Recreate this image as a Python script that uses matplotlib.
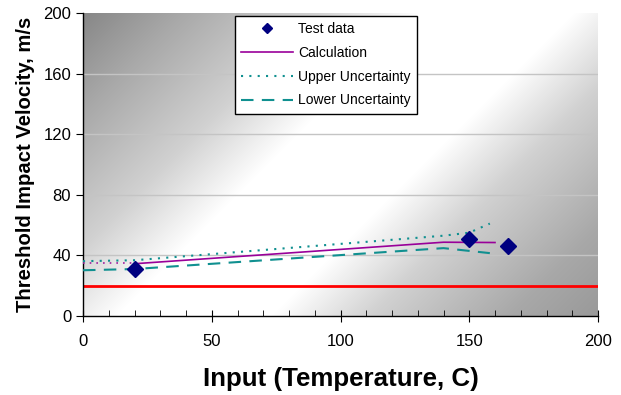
import numpy as np
import matplotlib
matplotlib.use("Agg")
import matplotlib.pyplot as plt
from matplotlib.ticker import MultipleLocator

plt.rcParams['font.family'] = ['Liberation Sans', 'DejaVu Sans']

# Data
test_x = [20, 150, 165]
test_y = [31.3, 51.1, 45.9]

calc_x = [20, 140, 160]
calc_y = [34.5, 48.7, 48.5]

calc_ext_x = [0, 20]
calc_ext_y = [34.8, 34.8]

upper_x = [0, 20, 140, 150, 158]
upper_y = [36.2, 36.8, 53.0, 55.0, 61.0]

lower_x = [0, 20, 140, 158]
lower_y = [30.2, 31.0, 44.8, 41.5]

threshold_y = 20

x_ticks = [0, 50, 100, 150, 200]
y_ticks = [0, 40, 80, 120, 160, 200]

W, H = 621, 395
fig = plt.figure(figsize=(W / 100, H / 100), dpi=100)
ax = fig.add_axes([83 / W, 1 - 316 / H, 515 / W, 303 / H])

# gradient background: diagonal in pixel space, dark top-left and bottom-right
pw, ph = 515, 303
xs = np.arange(pw)
ys = np.arange(ph)
X, Y = np.meshgrid(xs, ys)
p = (X + Y) / (pw + ph)
b = np.interp(p, [0.0, 0.12, 0.285, 0.41, 0.6, 0.72, 0.89, 1.0],
              [0.53, 0.66, 0.82, 1.0, 1.0, 0.82, 0.66, 0.60])
img = np.dstack([b, b, b])
ax.imshow(img, extent=[0, 1, 0, 1], transform=ax.transAxes, aspect='auto',
          zorder=0, interpolation='bilinear')

ax.set_xlim(0, 200)
ax.set_ylim(0, 200)
ax.set_xticks(x_ticks)
ax.set_yticks(y_ticks)
ax.xaxis.set_minor_locator(MultipleLocator(10))
for y in y_ticks[1:-1]:
    ax.axhline(y, color='#c4c4c4', lw=1, zorder=1)

ax.axhline(threshold_y, color='#ff0000', lw=2, zorder=2)

ax.plot(calc_ext_x, calc_ext_y, color='#a020a0', lw=1.2, ls=(0, (1, 3)), zorder=3)
ax.plot(test_x, test_y, ls='none', marker='D', ms=8, color='#000080',
        label='Test data', zorder=5)
ax.plot(calc_x, calc_y, color='#990099', lw=1.2, label='Calculation', zorder=4)
ax.plot(upper_x, upper_y, color='#109090', lw=1.5, ls=(0, (1, 3)),
        label='Upper Uncertainty', zorder=4)
ax.plot(lower_x, lower_y, color='#109090', lw=1.5, ls=(0, (6, 4)),
        label='Lower Uncertainty', zorder=4)

for s in ['top', 'right']:
    ax.spines[s].set_visible(False)
ax.spines['left'].set_linewidth(1)
ax.spines['bottom'].set_linewidth(1)

ax.tick_params(axis='x', which='major', direction='inout', length=8, labelsize=12, pad=9)
ax.tick_params(axis='x', which='minor', direction='in', length=4)
ax.tick_params(axis='y', which='major', direction='out', length=5, labelsize=12)

ax.set_xlabel('Input (Temperature, C)', fontsize=18.6, fontweight='bold', labelpad=13)
ax.set_ylabel('Threshold Impact Velocity, m/s', fontsize=14.6, fontweight='bold', labelpad=6)

leg = ax.legend(loc='upper left', bbox_to_anchor=(0.295, 0.99), fontsize=10,
                frameon=True, fancybox=False, edgecolor='black', framealpha=1,
                handlelength=3.7, borderpad=0.45, labelspacing=0.7, handletextpad=0.4,
                markerscale=0.6, borderaxespad=0)
leg.get_frame().set_linewidth(1)

fig.savefig('out.png', dpi=100)
